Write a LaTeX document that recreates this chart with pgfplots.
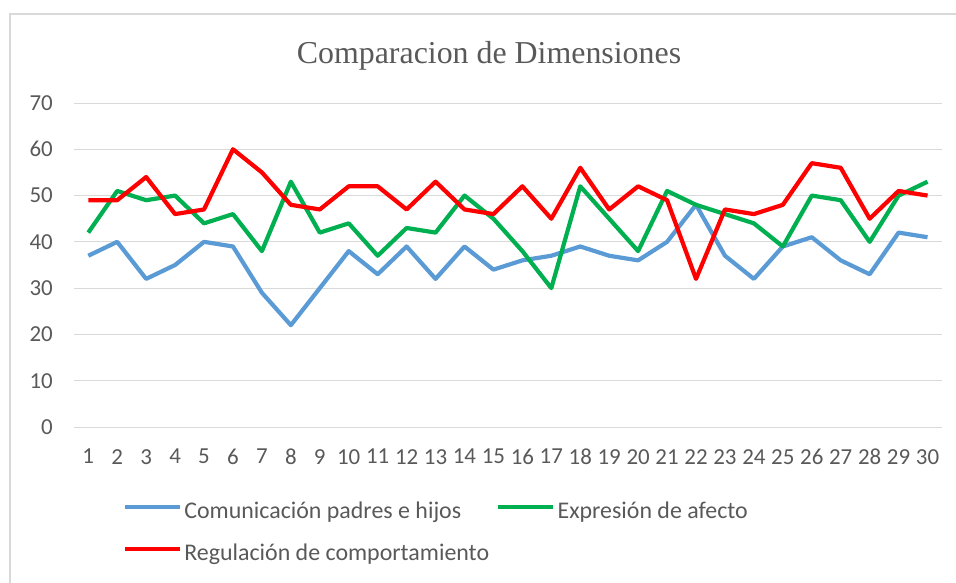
\documentclass[border=0pt]{standalone}
\usepackage{fontspec}
\setmainfont{Carlito}
\newfontfamily\titlefont{Liberation Serif}
\usepackage{pgfplots}
\pgfplotsset{compat=1.18}
\definecolor{cblue}{HTML}{5B9BD5}
\definecolor{cgreen}{HTML}{00B050}
\definecolor{cred}{HTML}{FF0000}
\definecolor{txt}{HTML}{595959}
\definecolor{gridc}{HTML}{D9D9D9}
\pgfplotstableread{
x  com  exp  reg
1  37   42   49
2  40   51   49
3  32   49   54
4  35   50   46
5  40   44   47
6  39   46   60
7  29   38   55
8  22   53   48
9  30   42   47
10 38   44   52
11 33   37   52
12 39   43   47
13 32   42   53
14 39   50   47
15 34   45   46
16 36   38   52
17 37   30   45
18 39   52   56
19 37   45   47
20 36   38   52
21 40   51   49
22 48   48   32
23 37   46   47
24 32   44   46
25 39   39   48
26 41   50   57
27 36   49   56
28 33   40   45
29 42   50   51
30 41   53   50
}\datatable
\begin{document}
\begin{tikzpicture}
\useasboundingbox (0bp,0bp) rectangle (956bp,583bp);
\draw[gridc, line width=1.5bp] (10bp,-5bp) -- (10bp,569bp) -- (960bp,569bp);
\node[anchor=base, text=txt, font=\titlefont\fontsize{32}{38}\selectfont, inner sep=0pt] at (489bp,519bp) {Comparacion de Dimensiones};
\begin{axis}[
  at={(73.8bp,156bp)}, anchor=south west,
  scale only axis, width=868.2bp, height=324bp,
  xmin=0.5, xmax=30.5, ymin=0, ymax=70,
  xtick={1,...,30}, ytick={0,10,...,70},
  axis line style={draw=none},
  major tick length=0pt,
  ymajorgrids, grid style={gridc, line width=1bp},
  ticklabel style={font=\fontsize{23}{27}\selectfont, text=txt, inner sep=0pt},
  /pgf/number format/assume math mode=true,
  yticklabel style={anchor=east, xshift=-20.8bp},
  xticklabel style={anchor=north, yshift=-22bp},
  legend columns=2,
  legend style={at={(0.0532,-0.2254)}, anchor=north west, draw=none, fill=none,
    font=\fontsize{24}{28}\selectfont, text=txt,
    nodes={inner sep=0pt, text height=16bp, text depth=5bp},
    row sep=21bp,
    /tikz/every odd column/.append style={column sep=2bp},
    /tikz/every even column/.append style={column sep=0bp}},
  legend cell align=left,
  legend image code/.code={\draw[#1] (0bp,6bp) -- (55bp,6bp);},
  every axis plot/.append style={line width=4.2bp, line join=round, mark=none},
]
\addplot[cblue] table[x=x, y=com] {\datatable};
\addlegendentry{\makebox[312bp][l]{Comunicación padres e hijos}}
\addplot[cgreen] table[x=x, y=exp] {\datatable};
\addlegendentry{Expresión de afecto}
\addplot[cred] table[x=x, y=reg] {\datatable};
\addlegendentry{Regulación de comportamiento}
\end{axis}
\end{tikzpicture}
\end{document}
